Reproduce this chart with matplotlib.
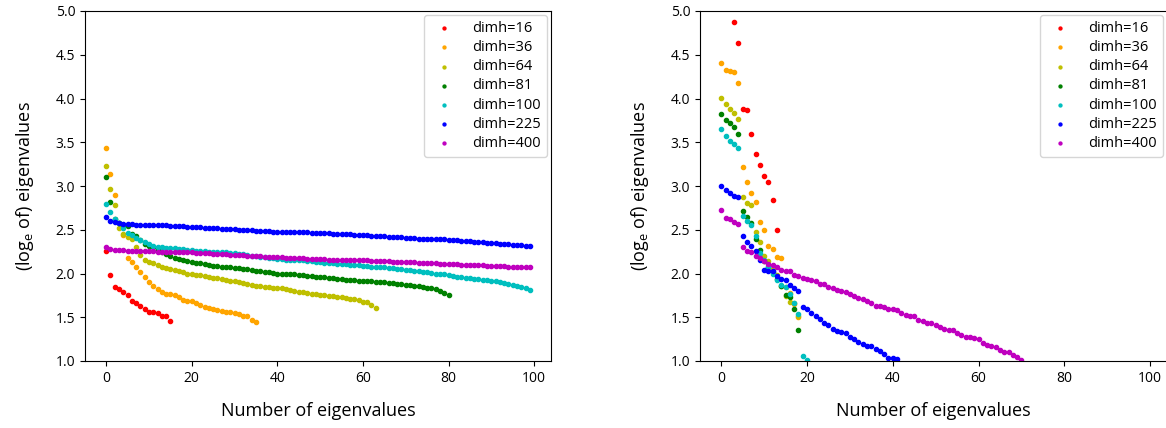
import numpy as np
import matplotlib
matplotlib.use("Agg")
import matplotlib.pyplot as plt

nan = np.nan

labels = ["dimh=16", "dimh=36", "dimh=64", "dimh=81", "dimh=100", "dimh=225", "dimh=400"]
colors = ["r", "orange", "y", "g", "c", "b", "m"]

# left panel: log eigenvalues (first 100 at most)
red_l = [2.26, 1.98, 1.85, 1.82, 1.79, 1.76, 1.69, 1.66, 1.63, 1.60, 1.56, 1.56, 1.55, 1.52, 1.51, 1.46]
orange_l = [3.44, 3.14, 2.90, 2.58, 2.44, 2.18, 2.13, 2.07, 2.02, 1.96,
            1.90, 1.86, 1.82, 1.79, 1.77, 1.77, 1.76, 1.73, 1.70, 1.69,
            1.69, 1.66, 1.64, 1.62, 1.61, 1.59, 1.58, 1.57, 1.56, 1.56,
            1.55, 1.54, 1.52, 1.51, 1.47, 1.45]
yellow_l = [3.23, 2.97, 2.78, 2.52, 2.45, 2.42, 2.40, 2.30, 2.21, 2.16,
            2.13, 2.12, 2.10, 2.08, 2.06, 2.05, 2.04, 2.03, 2.02, 2.00,
            1.99, 1.98, 1.98, 1.97, 1.96, 1.95, 1.95, 1.94, 1.93, 1.92,
            1.91, 1.90, 1.89, 1.88, 1.87, 1.86, 1.86, 1.85, 1.85, 1.84,
            1.84, 1.83, 1.82, 1.81, 1.80, 1.79, 1.79, 1.78, 1.77, 1.77,
            1.76, 1.75, 1.74, 1.74, 1.73, 1.73, 1.72, 1.71, 1.71, 1.70,
            1.68, 1.67, 1.64, 1.61]
green_l = [3.10, 2.82, 2.62, 2.58, 2.56, 2.54, 2.45, 2.43, 2.38, 2.34,
           2.31, 2.30, 2.27, 2.24, 2.22, 2.20, 2.18, 2.17, 2.16, 2.14,
           2.13, 2.12, 2.12, 2.11, 2.10, 2.09, 2.09, 2.08, 2.08, 2.07,
           2.06, 2.06, 2.05, 2.05, 2.04, 2.03, 2.03, 2.02, 2.02, 2.01,
           2.00, 2.00, 2.00, 1.99, 1.99, 1.98, 1.98, 1.97, 1.97, 1.96,
           1.96, 1.96, 1.95, 1.95, 1.94, 1.94, 1.93, 1.93, 1.93, 1.92,
           1.92, 1.91, 1.91, 1.90, 1.90, 1.90, 1.89, 1.89, 1.88, 1.88,
           1.87, 1.87, 1.86, 1.86, 1.85, 1.84, 1.83, 1.82, 1.80, 1.78,
           1.75]
cyan_l = [2.79, 2.70, 2.62, 2.58, 2.52, 2.46, 2.44, 2.41, 2.38, 2.36,
          2.34, 2.32, 2.30, 2.30, 2.29, 2.29, 2.29, 2.28, 2.28, 2.27,
          2.27, 2.26, 2.26, 2.26, 2.25, 2.25, 2.25, 2.24, 2.24, 2.23,
          2.23, 2.22, 2.22, 2.21, 2.20, 2.20, 2.19, 2.19, 2.18, 2.18,
          2.17, 2.17, 2.16, 2.16, 2.15, 2.15, 2.15, 2.14, 2.14, 2.13,
          2.13, 2.12, 2.12, 2.12, 2.11, 2.11, 2.11, 2.10, 2.10, 2.10,
          2.09, 2.09, 2.08, 2.08, 2.07, 2.07, 2.06, 2.06, 2.05, 2.05,
          2.04, 2.04, 2.03, 2.03, 2.02, 2.02, 2.01, 2.00, 2.00, 1.99,
          1.98, 1.97, 1.96, 1.96, 1.95, 1.95, 1.94, 1.94, 1.93, 1.93,
          1.92, 1.91, 1.90, 1.89, 1.88, 1.87, 1.86, 1.85, 1.83, 1.81]
blue_l = [2.65, 2.60, 2.59, 2.58, 2.57, 2.57, 2.57, 2.56, 2.56, 2.56,
          2.56, 2.55, 2.55, 2.55, 2.55, 2.54, 2.54, 2.54, 2.54, 2.53,
          2.53, 2.53, 2.53, 2.52, 2.52, 2.52, 2.52, 2.51, 2.51, 2.51,
          2.51, 2.50, 2.50, 2.50, 2.50, 2.49, 2.49, 2.49, 2.49, 2.48,
          2.48, 2.48, 2.48, 2.47, 2.47, 2.47, 2.47, 2.47, 2.46, 2.46,
          2.46, 2.46, 2.46, 2.45, 2.45, 2.45, 2.45, 2.45, 2.44, 2.44,
          2.44, 2.44, 2.43, 2.43, 2.43, 2.43, 2.42, 2.42, 2.42, 2.42,
          2.41, 2.41, 2.41, 2.40, 2.40, 2.40, 2.40, 2.39, 2.39, 2.39,
          2.38, 2.38, 2.38, 2.37, 2.37, 2.37, 2.36, 2.36, 2.36, 2.35,
          2.35, 2.35, 2.34, 2.34, 2.34, 2.33, 2.33, 2.33, 2.32, 2.32]
magenta_l = [2.30, 2.28, 2.27, 2.27, 2.27, 2.26, 2.26, 2.26, 2.26, 2.26,
             2.26, 2.26, 2.25, 2.25, 2.25, 2.25, 2.25, 2.24, 2.24, 2.24,
             2.24, 2.23, 2.23, 2.23, 2.23, 2.22, 2.22, 2.22, 2.22, 2.21,
             2.21, 2.21, 2.21, 2.20, 2.20, 2.20, 2.20, 2.19, 2.19, 2.19,
             2.19, 2.19, 2.18, 2.18, 2.18, 2.18, 2.18, 2.17, 2.17, 2.17,
             2.17, 2.17, 2.16, 2.16, 2.16, 2.16, 2.16, 2.15, 2.15, 2.15,
             2.15, 2.15, 2.14, 2.14, 2.14, 2.14, 2.14, 2.13, 2.13, 2.13,
             2.13, 2.13, 2.13, 2.12, 2.12, 2.12, 2.12, 2.12, 2.11, 2.11,
             2.11, 2.11, 2.11, 2.10, 2.10, 2.10, 2.10, 2.10, 2.10, 2.09,
             2.09, 2.09, 2.09, 2.09, 2.08, 2.08, 2.08, 2.08, 2.07, 2.07]

# right panel: only the points that fall inside 1.0-5.0 (nan = above the top)
red_r = [nan, nan, nan, 4.88, 4.63, 3.88, 3.87, 3.59, 3.37, 3.24, 3.11, 3.05, 2.84, 2.50]
orange_r = [4.41, 4.33, 4.31, 4.30, 4.18, 3.22, 3.05, 2.92, 2.82, 2.59,
            2.50, 2.31, 2.28, 2.19, 2.18, 1.85, 1.78, 1.65, 1.50]
yellow_r = [4.01, 3.94, 3.88, 3.84, 3.77, 2.87, 2.81, 2.78, 2.48, 2.36,
            2.20, 2.14, 2.05, 1.98, 1.86, 1.74, 1.68, 1.66, 1.52]
green_r = [3.82, 3.75, 3.72, 3.68, 3.60, 2.71, 2.65, 2.58, 2.40, 2.27,
           2.14, 2.08, 2.02, 1.94, 1.86, 1.75, 1.73, 1.60, 1.36]
cyan_r = [3.65, 3.57, 3.51, 3.48, 3.44, 2.66, 2.60, 2.55, 2.43, 2.23,
          2.16, 2.08, 2.00, 1.93, 1.87, 1.85, 1.77, 1.66, 1.54, 1.06,
          1.01]
blue_r = [3.00, 2.95, 2.92, 2.89, 2.88, 2.43, 2.36, 2.31, 2.26, 2.15,
          2.04, 2.03, 2.03, 1.97, 1.94, 1.93, 1.87, 1.83, 1.80, 1.62,
          1.59, 1.55, 1.51, 1.48, 1.44, 1.41, 1.37, 1.34, 1.33, 1.32,
          1.28, 1.25, 1.22, 1.19, 1.17, 1.17, 1.14, 1.11, 1.08, 1.04,
          1.03, 1.02]
magenta_r = [2.73, 2.64, 2.62, 2.59, 2.57, 2.30, 2.26, 2.25, 2.20, 2.18,
             2.14, 2.11, 2.10, 2.08, 2.04, 2.03, 2.03, 1.98, 1.97, 1.95,
             1.94, 1.93, 1.91, 1.88, 1.88, 1.85, 1.83, 1.81, 1.80, 1.79,
             1.77, 1.74, 1.72, 1.71, 1.69, 1.66, 1.63, 1.63, 1.62, 1.59,
             1.59, 1.58, 1.55, 1.53, 1.52, 1.51, 1.47, 1.46, 1.44, 1.43,
             1.41, 1.39, 1.37, 1.35, 1.35, 1.32, 1.30, 1.28, 1.27, 1.26,
             1.25, 1.21, 1.18, 1.17, 1.16, 1.13, 1.10, 1.10, 1.07, 1.05,
             1.01]

left_series = [red_l, orange_l, yellow_l, green_l, cyan_l, blue_l, magenta_l]
right_series = [red_r, orange_r, yellow_r, green_r, cyan_r, blue_r, magenta_r]

plt.rcParams["font.family"] = ["Open Sans", "DejaVu Sans"]

W, H = 1166, 428
fig = plt.figure(figsize=(W / 100, H / 100), dpi=100)
ax_left = fig.add_axes([85 / W, (H - 361) / H, 466 / W, 350 / H])
# the right panel runs off the edge of the picture, as in the original crop
ax_right = fig.add_axes([700 / W, (H - 361) / H, 467 / W, 350 / H])

for ax, series in [(ax_left, left_series), (ax_right, right_series)]:
    for vals, col, lab in zip(series, colors, labels):
        ax.scatter(np.arange(len(vals)), vals, s=9, color=col, label=lab, zorder=2)
    ax.set_xlim(-4.95, 103.95)
    ax.set_ylim(1.0, 5.0)
    ax.set_xticks(np.arange(0, 101, 20))
    ax.set_yticks(np.arange(1.0, 5.01, 0.5))
    ax.tick_params(labelsize=10)
    ax.set_xlabel("Number of eigenvalues", fontsize=13, labelpad=12)
    ax.set_ylabel(r"(log$_\mathregular{e}$ of) eigenvalues", fontsize=13, labelpad=14)
    ax.legend(loc="upper right", fontsize=10.5, markerscale=0.7,
              labelspacing=0.28, handletextpad=0.9, borderaxespad=0.3)

fig.savefig("out.png", dpi=100)
